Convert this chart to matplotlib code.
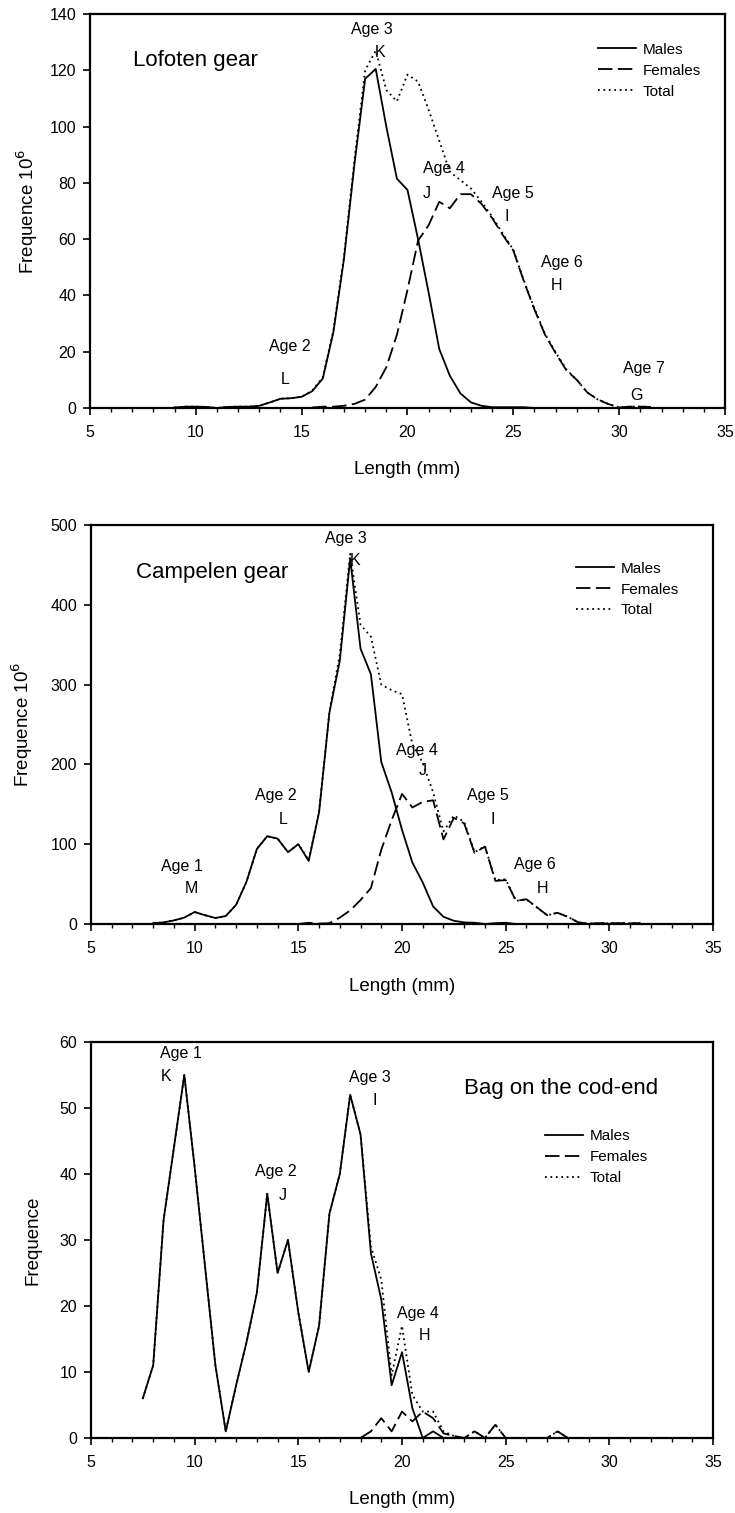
import numpy as np
import matplotlib.pyplot as plt

plt.rcParams['font.family'] = ['Liberation Sans', 'DejaVu Sans']

# Length classes (mm) and frequencies, panel 1: Lofoten gear
len1_males = np.arange(9, 26.01, 0.5)
males1 = [0.2, 0.5, 0.5, 0.4, 0, 0.4, 0.5, 0.5, 0.8, 2,
          3.3, 3.5, 4, 6, 10.5, 27, 53, 87, 117, 120.5,
          100, 81.5, 77.5, 60, 41, 21, 11.5, 5.2, 2, 0.8,
          0.3, 0.3, 0.3, 0.3, 0]
len1_females = np.arange(15.5, 31.51, 0.5)
females1 = [0.2, 0.5, 0.5, 0.8, 1.5, 3, 7.5, 14.5, 26, 42,
            59.5, 65, 73.3, 71, 76, 76, 72.5, 67.5, 61.5, 56,
            45, 35, 26, 19.5, 13.5, 10, 5.5, 3, 1.4, 0.2,
            0.5, 0.5, 0.4]
len1_total = np.arange(9, 31.51, 0.5)
total1 = [0.2, 0.5, 0.5, 0.4, 0, 0.4, 0.5, 0.5, 0.8, 2,
          3.3, 3.5, 4, 6.2, 11, 27.5, 54, 88.5, 120, 127,
          113, 109, 118.5, 116, 106, 95, 84, 81, 78, 73.3,
          68, 62, 56.3, 45.3, 35.3, 26.3, 19.8, 13.8, 10, 5.5,
          3, 1.4, 0.2, 0.5, 0.5, 0.4]

# panel 2: Campelen gear
len2_males = np.arange(8, 25.51, 0.5)
males2 = [1, 2, 4.5, 8, 15, 11, 7.5, 10,
          24, 53, 94, 110, 107, 90, 100, 79,
          140, 265, 330, 458, 345, 313, 203, 165,
          118, 77, 52, 22, 9, 4, 2, 1.5,
          0, 1, 1.5, 0]
len2_females = np.arange(15, 31.51, 0.5)
females2 = [0, 1.5, 0.5, 1, 8, 17, 30, 45,
            93, 130, 163, 146, 153, 155, 106, 133,
            126, 89, 97, 54, 55, 29, 31, 21,
            11, 14, 9, 2, 0.5, 1, 1, 1,
            1, 1]
len2_total = np.arange(8, 31.51, 0.5)
total2 = [1, 2, 4.5, 8, 15, 11, 7.5, 10,
          24, 53, 94, 110, 107, 90, 100, 80,
          141, 266, 338, 464, 375, 360, 300, 293,
          288, 225, 202, 165, 116, 136, 128, 90,
          97.5, 55, 56, 29, 31, 21, 11, 14,
          9, 2, 0.5, 1, 1, 1, 1, 1]

# panel 3: Bag on the cod-end
len3_males = np.arange(7.5, 22.01, 0.5)
males3 = [6, 11, 33, 44, 55, 41, 26, 11, 1, 8,
          14.5, 22, 37, 25, 30, 19, 10, 17, 34, 40,
          52, 46, 28, 21, 8, 13, 4.5, 0, 1, 0]
len3_females = np.arange(18, 28.01, 0.5)
females3 = [0, 1, 3, 1, 4, 2.5, 4, 3, 0.7, 0.3,
            0, 1, 0, 2, 0, 0, 0, 0, 0, 1, 0]
len3_total = np.arange(7.5, 28.01, 0.5)
total3 = [6, 11, 33, 44, 55, 41, 26, 11, 1, 8,
          14.5, 22, 37, 25, 30, 19, 10, 17, 34, 40,
          52, 46, 29, 24, 9.5, 17, 6.5, 4, 4, 1,
          0.3, 0, 1, 0, 2, 0, 0, 0, 0, 0,
          1, 0]

# Age labels (text, x, y)
ages1 = [('Age 2', 14.45, 22), ('L', 14.2, 10), ('Age 3', 18.3, 134.5), ('K', 18.7, 126.3),
         ('Age 4', 21.7, 85), ('J', 20.9, 76.3), ('Age 5', 25.0, 76.3), ('I', 24.7, 68),
         ('Age 6', 27.3, 51.6), ('H', 27.05, 43.4), ('Age 7', 31.15, 13.9), ('G', 30.8, 4.6)]
ages2 = [('Age 1', 9.36, 72.5), ('M', 9.86, 44), ('Age 2', 13.9, 161), ('L', 14.28, 131),
         ('Age 3', 17.29, 483), ('K', 17.74, 455), ('Age 4', 20.74, 218), ('J', 21.0, 192),
         ('Age 5', 24.14, 161), ('I', 24.4, 131), ('Age 6', 26.43, 74), ('H', 26.79, 44.6)]
ages3 = [('Age 1', 9.34, 58.3), ('K', 8.62, 54.7), ('Age 2', 13.9, 40.4), ('J', 14.23, 36.8),
         ('Age 3', 18.46, 54.6), ('I', 18.7, 51.2), ('Age 4', 20.76, 18.8), ('H', 21.1, 15.6)]

fig = plt.figure(figsize=(7.35, 15.13), dpi=100)
ax1 = fig.add_axes([0.1224, 0.7303, 0.864, 0.2604])
ax2 = fig.add_axes([0.1238, 0.3893, 0.8463, 0.2637])
ax3 = fig.add_axes([0.1238, 0.0496, 0.8463, 0.2617])

lw = 1.3
dash = (0, (8, 3))
dots = (0, (1, 2))


def draw(ax, lm, m, lf, f, lt, t, ymax, ystep, ylabel, title, title_xy, ages, leg_xy, ylab_x):
    ax.plot(lm, m, color='black', lw=lw, label='Males')
    ax.plot(lf, f, color='black', lw=lw, linestyle=dash, label='Females')
    ax.plot(lt, t, color='black', lw=lw, linestyle=dots, label='Total')
    ax.set_xlim(5, 35)
    ax.set_ylim(0, ymax)
    ax.set_xticks(np.arange(5, 36, 5))
    ax.set_xticks(np.arange(5, 36, 1), minor=True)
    ax.set_yticks(np.arange(0, ymax + 1, ystep))
    ax.tick_params(axis='both', which='major', direction='out', length=5, width=1.2, labelsize=11.5)
    ax.tick_params(axis='x', which='major', pad=7)
    ax.tick_params(axis='y', which='major', pad=5)
    ax.tick_params(axis='x', which='minor', direction='out', length=3, width=1.0)
    for s in ax.spines.values():
        s.set_linewidth(1.6)
    ax.set_xlabel('Length (mm)', fontsize=13.5)
    ax.set_ylabel(ylabel, fontsize=13.5)
    ax.yaxis.set_label_coords(ylab_x, 0.5)
    ax.xaxis.set_label_coords(0.5, -0.135)
    ax.text(title_xy[0], title_xy[1], title, transform=ax.transAxes, fontsize=16,
            ha='left', va='center')
    for txt, x, y in ages:
        ax.text(x, y, txt, fontsize=11.5, ha='center', va='center')
    ax.legend(loc='upper left', bbox_to_anchor=leg_xy, frameon=False, fontsize=11,
              handlelength=2.5, handletextpad=0.4, labelspacing=0.45, borderpad=0,
              borderaxespad=0)


draw(ax1, len1_males, males1, len1_females, females1, len1_total, total1,
     140, 20, 'Frequence 10$^6$', 'Lofoten gear', (0.068, 0.883), ages1, (0.80, 0.927), -0.078)
draw(ax2, len2_males, males2, len2_females, females2, len2_total, total2,
     500, 100, 'Frequence 10$^6$', 'Campelen gear', (0.072, 0.882), ages2, (0.78, 0.908), -0.09)
draw(ax3, len3_males, males3, len3_females, females3, len3_total, total3,
     60, 10, 'Frequence', 'Bag on the cod-end', (0.60, 0.882), ages3, (0.73, 0.78), -0.08)

fig.savefig('out.png', dpi=100)
